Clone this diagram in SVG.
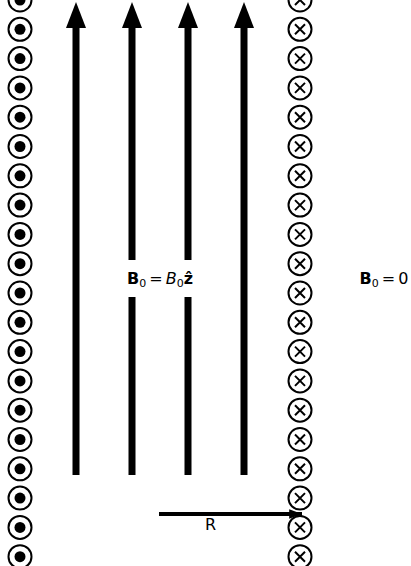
<svg xmlns="http://www.w3.org/2000/svg" xmlns:xlink="http://www.w3.org/1999/xlink" width="411" height="566" viewBox="0 0 411 566">
<style>
.ring{fill:#fff;stroke:#000;stroke-width:2}
.dot{fill:#000}
.cross{stroke:#000;stroke-width:2;fill:none}
.shaft{fill:#000}
.lbl{font-family:"DejaVu Sans",sans-serif;font-size:16px;fill:#000}
.sub{font-size:11px}
</style>
<defs>
<g id="out"><circle class="ring" r="11.5"/><circle class="dot" r="5.5"/></g>
<g id="in"><circle class="ring" r="11.5"/><path class="cross" d="M-5,-5L5,5M-5,5L5,-5"/></g>
<marker id="ah" viewBox="0 0 10 10" refX="10" refY="5" markerWidth="3.2" markerHeight="2.4" orient="auto" markerUnits="strokeWidth" preserveAspectRatio="none"><path d="M0,0L10,5L0,10z" fill="#000"/></marker>
</defs>
<rect width="411" height="566" fill="#fff"/>
<g id="field-arrows">
<g id="arrow1"><rect class="shaft" x="72.5" y="26" width="7" height="449"/><polygon points="76,2 66,28 86,28"/></g>
<g id="arrow2"><rect class="shaft" x="128.5" y="26" width="7" height="449"/><polygon points="132,2 122,28 142,28"/></g>
<g id="arrow3"><rect class="shaft" x="184.5" y="26" width="7" height="449"/><polygon points="188,2 178,28 198,28"/></g>
<g id="arrow4"><rect class="shaft" x="240.5" y="26" width="7" height="449"/><polygon points="244,2 234,28 254,28"/></g>
</g>
<g id="left-currents">
<use xlink:href="#out" x="20" y="0"/>
<use xlink:href="#out" x="20" y="29.3"/>
<use xlink:href="#out" x="20" y="58.6"/>
<use xlink:href="#out" x="20" y="87.9"/>
<use xlink:href="#out" x="20" y="117.2"/>
<use xlink:href="#out" x="20" y="146.5"/>
<use xlink:href="#out" x="20" y="175.8"/>
<use xlink:href="#out" x="20" y="205.1"/>
<use xlink:href="#out" x="20" y="234.4"/>
<use xlink:href="#out" x="20" y="263.7"/>
<use xlink:href="#out" x="20" y="293"/>
<use xlink:href="#out" x="20" y="322.3"/>
<use xlink:href="#out" x="20" y="351.6"/>
<use xlink:href="#out" x="20" y="380.9"/>
<use xlink:href="#out" x="20" y="410.2"/>
<use xlink:href="#out" x="20" y="439.5"/>
<use xlink:href="#out" x="20" y="468.8"/>
<use xlink:href="#out" x="20" y="498.1"/>
<use xlink:href="#out" x="20" y="527.4"/>
<use xlink:href="#out" x="20" y="556.7"/>
</g>
<g id="right-currents">
<use xlink:href="#in" x="300" y="0"/>
<use xlink:href="#in" x="300" y="29.3"/>
<use xlink:href="#in" x="300" y="58.6"/>
<use xlink:href="#in" x="300" y="87.9"/>
<use xlink:href="#in" x="300" y="117.2"/>
<use xlink:href="#in" x="300" y="146.5"/>
<use xlink:href="#in" x="300" y="175.8"/>
<use xlink:href="#in" x="300" y="205.1"/>
<use xlink:href="#in" x="300" y="234.4"/>
<use xlink:href="#in" x="300" y="263.7"/>
<use xlink:href="#in" x="300" y="293"/>
<use xlink:href="#in" x="300" y="322.3"/>
<use xlink:href="#in" x="300" y="351.6"/>
<use xlink:href="#in" x="300" y="380.9"/>
<use xlink:href="#in" x="300" y="410.2"/>
<use xlink:href="#in" x="300" y="439.5"/>
<use xlink:href="#in" x="300" y="468.8"/>
<use xlink:href="#in" x="300" y="498.1"/>
<use xlink:href="#in" x="300" y="527.4"/>
<use xlink:href="#in" x="300" y="556.7"/>
</g>
<g id="inside-label">
<rect x="122" y="260" width="76" height="37" fill="#fff"/>
<text class="lbl" x="160" y="284" text-anchor="middle"><tspan font-weight="bold">B</tspan><tspan class="sub" dy="3">0</tspan><tspan dx="3" dy="-3">=</tspan><tspan dx="3" font-style="italic">B</tspan><tspan class="sub" dy="3">0</tspan><tspan dy="-3" font-weight="bold">ẑ</tspan></text>
</g>
<g id="outside-label">
<text class="lbl" x="384" y="284" text-anchor="middle"><tspan font-weight="bold">B</tspan><tspan class="sub" dy="3">0</tspan><tspan dx="3" dy="-3">=</tspan><tspan dx="3">0</tspan></text>
</g>
<g id="connectors">
<line x1="159" y1="514" x2="302" y2="514" stroke="#000" stroke-width="4" marker-end="url(#ah)"/>
<text class="lbl" x="210.5" y="530" text-anchor="middle">R</text>
</g>
</svg>
